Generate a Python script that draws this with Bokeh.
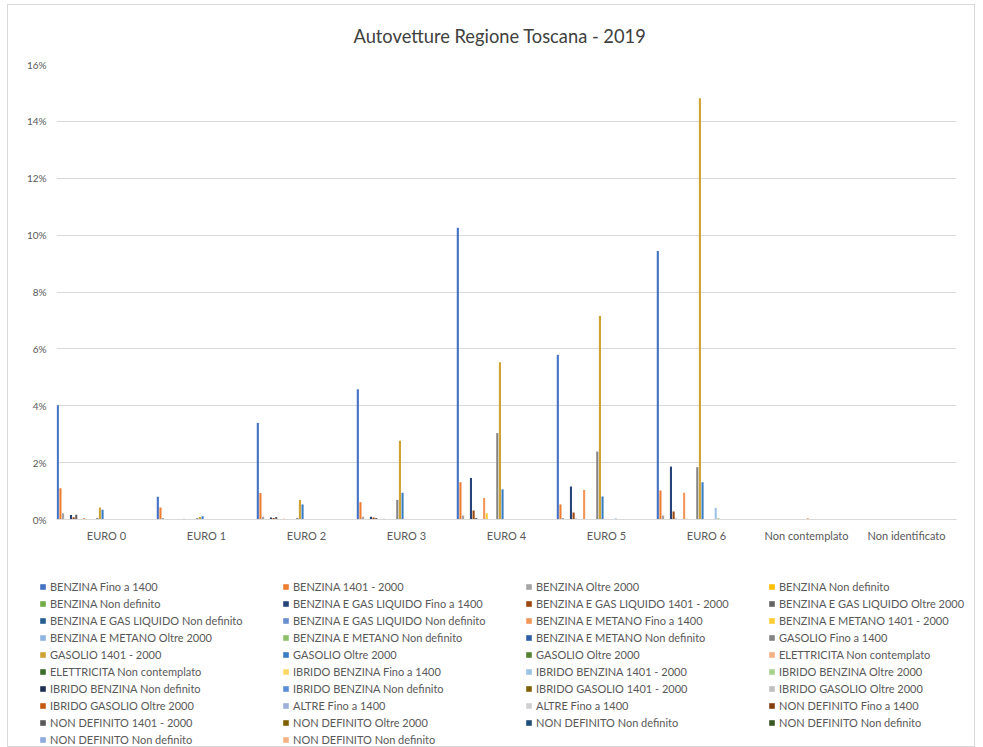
from bokeh.plotting import figure
from bokeh.layouts import column
from bokeh.models import (ColumnDataSource, FactorRange, Range1d, Legend, LegendItem,
                          NumeralTickFormatter, FixedTicker)
from bokeh.transform import dodge
from bokeh.embed import file_html
from bokeh.resources import INLINE

title = "Autovetture Regione Toscana - 2019"

categories = ["EURO 0", "EURO 1", "EURO 2", "EURO 3", "EURO 4", "EURO 5", "EURO 6",
              "Non contemplato", "Non identificato"]

series_names = [
    "BENZINA Fino a 1400", "BENZINA 1401 - 2000", "BENZINA Oltre 2000", "BENZINA Non definito",
    "BENZINA Non definito", "BENZINA E GAS LIQUIDO Fino a 1400", "BENZINA E GAS LIQUIDO 1401 - 2000",
    "BENZINA E GAS LIQUIDO Oltre 2000",
    "BENZINA E GAS LIQUIDO Non definito", "BENZINA E GAS LIQUIDO Non definito",
    "BENZINA E METANO Fino a 1400", "BENZINA E METANO 1401 - 2000",
    "BENZINA E METANO Oltre 2000", "BENZINA E METANO Non definito", "BENZINA E METANO Non definito",
    "GASOLIO Fino a 1400",
    "GASOLIO 1401 - 2000", "GASOLIO Oltre 2000", "GASOLIO Oltre 2000", "ELETTRICITA Non contemplato",
    "ELETTRICITA Non contemplato", "IBRIDO BENZINA Fino a 1400", "IBRIDO BENZINA 1401 - 2000",
    "IBRIDO BENZINA Oltre 2000",
    "IBRIDO BENZINA Non definito", "IBRIDO BENZINA Non definito", "IBRIDO GASOLIO 1401 - 2000",
    "IBRIDO GASOLIO Oltre 2000",
    "IBRIDO GASOLIO Oltre 2000", "ALTRE Fino a 1400", "ALTRE Fino a 1400", "NON DEFINITO Fino a 1400",
    "NON DEFINITO 1401 - 2000", "NON DEFINITO Oltre 2000", "NON DEFINITO Non definito",
    "NON DEFINITO Non definito",
    "NON DEFINITO Non definito", "NON DEFINITO Non definito",
]

series_colors = [
    "#4472C4", "#ED7D31", "#A5A5A5", "#FFC000",
    "#70AD47", "#264478", "#9E480E", "#636363",
    "#255E91", "#698ED0", "#F1975A", "#FFCD33",
    "#8FB4E0", "#8CC168", "#2F5EA8", "#848484",
    "#CDA434", "#3A7DC0", "#548235", "#F4B183",
    "#3D6B2A", "#FFD966", "#9DC3E6", "#A9D18E",
    "#1F2F54", "#5B8FD5", "#7F6000", "#BFBFBF",
    "#C55A11", "#9DB0DA", "#D0D0D0", "#843C0C",
    "#595959", "#7F6000", "#1F4E79", "#385723",
    "#8FAADC", "#F4B183",
]

# values in percent, one list per category, in series order
euro0 = [4.02, 1.10, 0.22, 0, 0, 0.16, 0.08, 0.17, 0, 0, 0.05, 0.01, 0, 0, 0, 0.05, 0.42, 0.34,
         0, 0, 0, 0, 0, 0, 0, 0, 0, 0, 0, 0, 0, 0, 0, 0, 0, 0, 0, 0]
euro1 = [0.80, 0.42, 0.05, 0, 0, 0.02, 0.01, 0.02, 0, 0, 0.03, 0, 0, 0, 0, 0.05, 0.09, 0.11,
         0, 0, 0, 0, 0, 0, 0, 0, 0, 0, 0, 0, 0, 0, 0, 0, 0, 0, 0, 0]
euro2 = [3.40, 0.93, 0.10, 0, 0, 0.07, 0.05, 0.09, 0, 0, 0.03, 0.01, 0, 0, 0, 0.05, 0.69, 0.53,
         0, 0, 0, 0, 0, 0, 0, 0, 0, 0, 0, 0, 0, 0, 0, 0, 0, 0, 0, 0]
euro3 = [4.58, 0.61, 0.10, 0, 0, 0.10, 0.07, 0.05, 0, 0, 0.03, 0.01, 0, 0, 0, 0.69, 2.77, 0.94,
         0, 0, 0, 0, 0, 0, 0, 0, 0, 0, 0, 0, 0, 0, 0, 0, 0, 0, 0, 0]
euro4 = [10.26, 1.31, 0.14, 0, 0, 1.46, 0.32, 0.05, 0, 0, 0.76, 0.22, 0, 0, 0, 3.04, 5.53, 1.06,
         0, 0, 0, 0, 0.02, 0, 0, 0, 0, 0, 0, 0, 0, 0, 0, 0, 0, 0, 0, 0]
euro5 = [5.79, 0.53, 0.05, 0, 0, 1.16, 0.25, 0.03, 0, 0, 1.04, 0.02, 0, 0, 0, 2.39, 7.16, 0.81,
         0, 0, 0, 0, 0.04, 0, 0, 0, 0, 0, 0, 0, 0, 0, 0, 0, 0, 0, 0, 0]
euro6 = [9.44, 1.02, 0.14, 0, 0, 1.86, 0.28, 0.03, 0, 0, 0.94, 0.03, 0, 0, 0, 1.84, 14.81, 1.31,
         0, 0, 0, 0.02, 0.41, 0.05, 0, 0, 0, 0, 0, 0, 0, 0, 0, 0, 0, 0, 0, 0]
non_contemplato = [0, 0, 0, 0, 0, 0, 0, 0, 0, 0, 0, 0, 0, 0, 0, 0, 0, 0,
                   0, 0.05, 0, 0, 0, 0, 0, 0, 0, 0, 0, 0, 0, 0, 0, 0, 0, 0, 0, 0]
non_identificato = [0] * 38

category_values = [euro0, euro1, euro2, euro3, euro4, euro5, euro6, non_contemplato, non_identificato]

y_ticks = [0, 0.02, 0.04, 0.06, 0.08, 0.10, 0.12, 0.14, 0.16]

FONT = "Lato"
TXT = "#595959"
W = 966

p = figure(x_range=FactorRange(factors=categories), y_range=Range1d(0, 0.16),
           width=W, height=570, output_backend="svg", toolbar_location=None,
           min_border_left=48, min_border_right=18, min_border_top=58, min_border_bottom=56)
p.outline_line_color = None
p.background_fill_color = "white"
p.border_fill_color = "white"
p.frame_align = False

p.title.text = title
p.title.align = "left"
p.title.offset = 297
p.title.text_font = FONT
p.title.text_font_size = "18.3px"
p.title.text_font_style = "normal"
p.title.text_color = "#404040"
p.title.standoff = 35

n = len(series_names)
slot = 1.0 / n
sources = []
for i, (name, color) in enumerate(zip(series_names, series_colors)):
    src = ColumnDataSource(dict(cat=categories, val=[vals[i] / 100.0 for vals in category_values]))
    sources.append(src)
    off = -0.5 + (i + 0.5) * slot
    p.vbar(x=dodge("cat", off, range=p.x_range), top="val", width=slot * 0.8,
           source=src, fill_color=color, line_color=None)

p.xgrid.grid_line_color = None
p.ygrid.grid_line_color = "#d9d9d9"
p.ygrid.grid_line_width = 1

p.yaxis.ticker = FixedTicker(ticks=y_ticks)
p.yaxis.formatter = NumeralTickFormatter(format="0%")
p.yaxis.axis_line_color = None
p.yaxis.major_tick_line_color = None
p.yaxis.minor_tick_line_color = None
p.yaxis.major_label_text_font = FONT
p.yaxis.major_label_text_font_size = "10px"
p.yaxis.major_label_text_color = TXT
p.yaxis.major_label_standoff = 4

p.xaxis.axis_line_color = "#d9d9d9"
p.xaxis.major_tick_line_color = None
p.xaxis.minor_tick_line_color = None
p.xaxis.major_label_text_font = FONT
p.xaxis.major_label_text_font_size = "11px"
p.xaxis.major_label_text_color = TXT
p.xaxis.major_label_standoff = 3

# legend panel (same series, shown only as legend entries)
pl = figure(x_range=p.x_range, y_range=p.y_range, width=W, height=171,
            output_backend="svg", toolbar_location=None,
            x_axis_location=None, y_axis_location=None,
            min_border_left=0, min_border_right=0, min_border_top=0, min_border_bottom=0)
pl.outline_line_color = None
pl.grid.visible = False
pl.border_fill_color = "white"
pl.frame_align = False
items = []
for i, (name, color) in enumerate(zip(series_names, series_colors)):
    off = -0.5 + (i + 0.5) * slot
    r = pl.vbar(x=dodge("cat", off, range=pl.x_range), top="val", width=slot * 0.8,
                source=sources[i], fill_color=color, line_color=None, visible=False)
    items.append(LegendItem(label=name, renderers=[r]))

legend = Legend(items=items, location=(31, 0), orientation="horizontal", ncols=4,
                glyph_width=7, glyph_height=7, label_standoff=4, label_width=228,
                label_height=12, spacing=4, padding=0, margin=0,
                border_line_color=None, background_fill_alpha=0, inactive_fill_alpha=0,
                label_text_font=FONT, label_text_font_size="11px", label_text_color=TXT)
pl.add_layout(legend, "center")

layout = column(p, pl, spacing=0)
layout.styles = {"border": "1px solid #d9d9d9", "margin-left": "7px", "margin-top": "4px"}

open("out.html", "w").write(file_html(layout, INLINE))
